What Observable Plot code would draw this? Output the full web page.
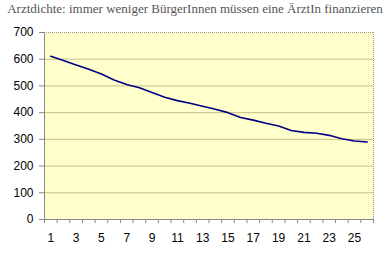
<!DOCTYPE html>
<html>
<head>
<meta charset="utf-8">
<script src="https://cdn.jsdelivr.net/npm/d3@7"></script>
<script src="https://cdn.jsdelivr.net/npm/@observablehq/plot@0.6"></script>
<style>
  html, body { margin: 0; padding: 0; background: #ffffff; }
  #title { width: 390px; height: 20px; line-height: 18px; text-align: center; font-family: "Liberation Serif", "Times New Roman", serif; font-size: 13px; color: #555555; white-space: nowrap; }
  svg { display: block; }
</style>
</head>
<body>
<div id="title">Arztdichte: immer weniger BürgerInnen müssen eine ÄrztIn finanzieren</div>
<div id="chart"></div>
<script>
const categories = [1,2,3,4,5,6,7,8,9,10,11,12,13,14,15,16,17,18,19,20,21,22,23,24,25,26];
const values = [611,595,578,562,545,522,505,493,475,458,445,435,424,413,400,382,372,360,350,333,326,323,315,302,294,290];
const yTicks = [0,100,200,300,400,500,600,700];
const xLabels = [1,3,5,7,9,11,13,15,17,19,21,23,25];

const data = categories.map((c, i) => ({c, v: values[i]}));
const lo = categories[0] - 0.5;
const hi = categories[categories.length - 1] + 0.5;
const boundaries = [lo, ...categories.map(c => c + 0.5)];
const grid = yTicks.filter(t => t > 0 && t < 700);

const chart = Plot.plot({
  width: 390,
  height: 235,
  marginLeft: 44,
  marginRight: 17,
  marginTop: 12,
  marginBottom: 36,
  x: {domain: [lo, hi]},
  y: {domain: [0, 700]},
  style: {fontFamily: "'Liberation Sans', Arial, sans-serif", fontSize: "12px", background: "#ffffff", color: "#000"},
  marks: [
    Plot.frame({fill: "#ffffcc", stroke: null}),
    Plot.ruleY(grid, {stroke: "#c8c088", strokeWidth: 1}),
    Plot.ruleY([700], {stroke: "#999999", strokeDasharray: "1,1"}),
    Plot.ruleX([hi], {stroke: "#999999", strokeDasharray: "1,1"}),
    Plot.ruleX([lo], {stroke: "#888888"}),
    Plot.ruleY([0], {stroke: "#888888"}),
    Plot.line(data, {x: "c", y: "v", stroke: "#000080", strokeWidth: 1.6}),
    Plot.axisY(yTicks, {tickSize: 5, tickPadding: 6, stroke: "#888888", fill: "#000", fontSize: 12, label: null}),
    Plot.axisX(boundaries, {tickSize: 4, tickFormat: () => "", stroke: "#888888", label: null}),
    Plot.axisX(xLabels, {tickSize: 0, tickPadding: 14, fill: "#000", fontSize: 12, label: null})
  ]
});
document.getElementById("chart").appendChild(chart);
</script>
</body>
</html>
